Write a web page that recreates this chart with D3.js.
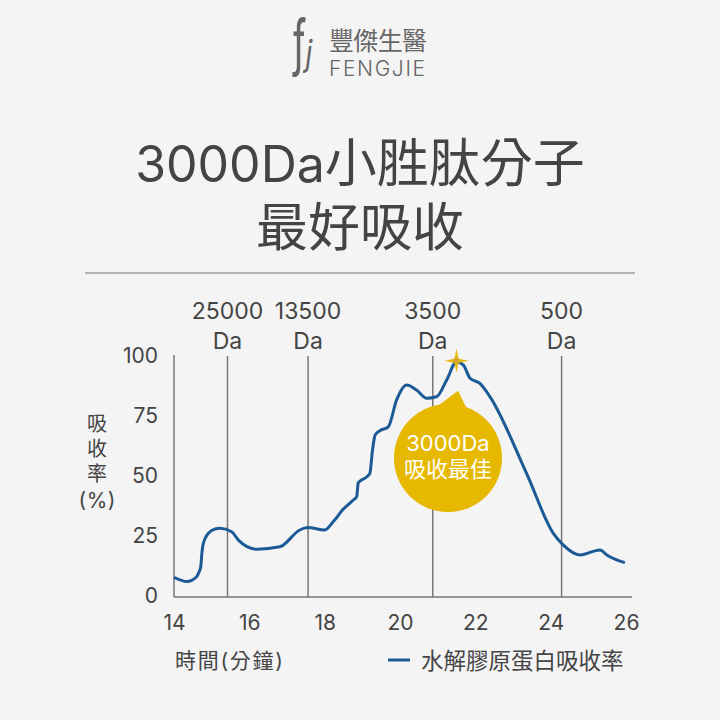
<!DOCTYPE html>
<html><head><meta charset="utf-8">
<script src="https://cdn.jsdelivr.net/npm/d3@7"></script>
<style>body{margin:0;background:#f4f4f4}svg{display:block}text{font-family:Inter,"Noto Sans CJK TC",sans-serif}</style>
</head><body>
<script>
const minutes = [14.00,14.34,14.60,14.65,14.71,14.74,14.78,14.91,15.09,15.22,15.53,15.71,16.20,16.81,17.34,17.55,18.00,18.23,18.49,18.76,18.85,18.89,18.94,19.12,19.20,19.27,19.34,19.47,19.69,19.91,20.18,20.44,20.71,20.97,21.24,21.50,21.68,21.86,22.12,22.39,23.36,24.07,24.33,24.78,25.31,25.49,25.97];
const absorption = [7.8,6.0,8.0,9.5,12.2,17.9,22.0,26.1,27.9,28.2,26.8,23.3,19.5,20.5,27.5,28.5,27.5,31.0,36.1,40.0,41.4,47.0,47.9,49.7,51.1,60.8,67.1,68.9,70.5,81.7,87.9,85.8,82.4,83.0,90.0,97.6,96.3,90.7,88.6,83.0,51.1,26.1,21.3,17.1,19.2,17.1,13.9];
const xTicks = [14,16,18,20,22,24,26];
const yTicks = [0,25,50,75,100];
const markerTimes = [15.42,17.56,20.87,24.29];
const markerLabels = ["25000","13500","3500","500"];
const seriesName = "水解膠原蛋白吸收率";

const W=720,H=720;
const svg=d3.select("body").append("svg").attr("width",W).attr("height",H);
svg.append("rect").attr("width",W).attr("height",H).attr("fill","#f4f4f4");

const x=d3.scaleLinear().domain([14,26]).range([174,626]);
const y=d3.scaleLinear().domain([0,100]).range([596,356]);
const grey="#444";
const cjk="'Noto Sans CJK TC'";

// logo
const logo=svg.append("g");
logo.append("text").attr("transform","translate(299,64) scale(0.85,1.4)").attr("font-size",44).attr("font-family","DejaVu Serif").attr("fill","#666").attr("text-anchor","middle").text("ƒ");
logo.append("text").attr("transform","translate(309,66) scale(1,1.3)").attr("font-size",28).attr("font-family","DejaVu Serif").attr("font-style","italic").attr("fill","#666").attr("text-anchor","middle").text("j");
logo.append("text").attr("x",329).attr("y",50).attr("font-size",25).attr("font-family",cjk).attr("fill","#666").attr("textLength",98).text("豐傑生醫");
logo.append("text").attr("x",329).attr("y",76).attr("font-size",21).attr("font-weight",300).attr("fill","#666").attr("textLength",96).text("FENGJIE");

// title
const t1=svg.append("text").attr("x",360).attr("y",182).attr("text-anchor","middle").attr("font-size",52).attr("fill",grey);
t1.append("tspan").attr("font-family","Inter").attr("font-size",50).text("3000Da");
t1.append("tspan").attr("font-family",cjk).text("小胜肽分子");
svg.append("text").attr("x",360).attr("y",246).attr("text-anchor","middle").attr("font-size",52).attr("font-family",cjk).attr("fill",grey).text("最好吸收");
svg.append("line").attr("x1",85).attr("x2",635).attr("y1",273).attr("y2",273).attr("stroke","#777").attr("stroke-width",1);

// marker lines
svg.selectAll(".mk").data(markerTimes).join("line").attr("x1",d=>x(d)).attr("x2",d=>x(d)).attr("y1",356).attr("y2",597).attr("stroke","#777").attr("stroke-width",1.5);
svg.selectAll(".ml").data(markerTimes).join("text").attr("x",d=>x(d)).attr("y",319).attr("text-anchor","middle").attr("font-size",23).attr("fill",grey).text((d,i)=>markerLabels[i]);
svg.selectAll(".md").data(markerTimes).join("text").attr("x",d=>x(d)).attr("y",349).attr("text-anchor","middle").attr("font-size",23).attr("fill",grey).text("Da");

// axes
const xAxis=svg.append("g").attr("transform","translate(0,597)").call(d3.axisBottom(x).tickValues(xTicks).tickSize(0).tickPadding(18).tickFormat(d3.format("d")));
xAxis.select(".domain").attr("stroke","#777").attr("stroke-width",1.5).attr("d","M174,0H632");
xAxis.selectAll("text").attr("font-size",21).attr("fill",grey).attr("font-family","Inter");
const yAxis=svg.append("g").attr("transform","translate(174,0)").call(d3.axisLeft(y).tickValues(yTicks).tickSize(0).tickPadding(16));
yAxis.select(".domain").attr("stroke","#777").attr("stroke-width",1.5).attr("d","M0,355V597");
yAxis.selectAll("text").attr("font-size",21).attr("fill",grey).attr("font-family","Inter");

// y title
["吸","收","率"].forEach((c,i)=>svg.append("text").attr("x",97).attr("y",431+i*25).attr("text-anchor","middle").attr("font-size",20).attr("font-family",cjk).attr("fill",grey).text(c));
svg.append("text").attr("x",97).attr("y",508).attr("text-anchor","middle").attr("font-size",21).attr("fill",grey).attr("textLength",37).text("(%)");

// line
const data=minutes.map((m,i)=>({m,v:absorption[i]}));
svg.append("path").datum(data).attr("fill","none").attr("stroke","#1b5a95").attr("stroke-width",3).attr("stroke-linejoin","round")
 .attr("d",d3.line().x(d=>x(d.m)).y(d=>y(d.v)).curve(d3.curveMonotoneX));

// star at peak
const pk=data[d3.maxIndex(data,d=>d.v)];
const sx=x(pk.m), sy=y(pk.v)-1;
const r1=12,r2=3;
const starPts=[];
for(let k=0;k<8;k++){const a=k*Math.PI/4-Math.PI/2;const r=k%2?r2:r1;starPts.push([sx+r*Math.cos(a),sy+r*Math.sin(a)]);}
svg.append("path").attr("d",d3.line().curve(d3.curveLinearClosed)(starPts)).attr("fill","#e8b90a");
svg.append("circle").attr("cx",sx).attr("cy",sy).attr("r",3).attr("fill","#d4a82a");

// callout
const cx=448,cy=458,cr=54;
svg.append("path").attr("d",`M${x(21.54)},${y(85.5)} L${cx-13},${cy-50} L${cx+19},${cy-49} Z`).attr("fill","#e6b800");
svg.append("circle").attr("cx",cx).attr("cy",cy).attr("r",cr).attr("fill","#e6b800");
svg.append("text").attr("x",cx).attr("y",451).attr("text-anchor","middle").attr("font-size",22).attr("fill","#fff").text("3000Da");
svg.append("text").attr("x",cx).attr("y",477).attr("text-anchor","middle").attr("font-size",22).attr("font-family",cjk).attr("fill","#fff").text("吸收最佳");

// x title & legend
svg.append("text").attr("x",175).attr("y",668).attr("font-size",21).attr("font-family",cjk).attr("fill",grey).attr("textLength",108).text("時間(分鐘)");
svg.append("line").attr("x1",388).attr("x2",410).attr("y1",660).attr("y2",660).attr("stroke","#1b5a95").attr("stroke-width",3);
svg.append("text").attr("x",421).attr("y",669).attr("font-size",22.5).attr("font-family",cjk).attr("fill",grey).text(seriesName);
</script>
</body></html>
